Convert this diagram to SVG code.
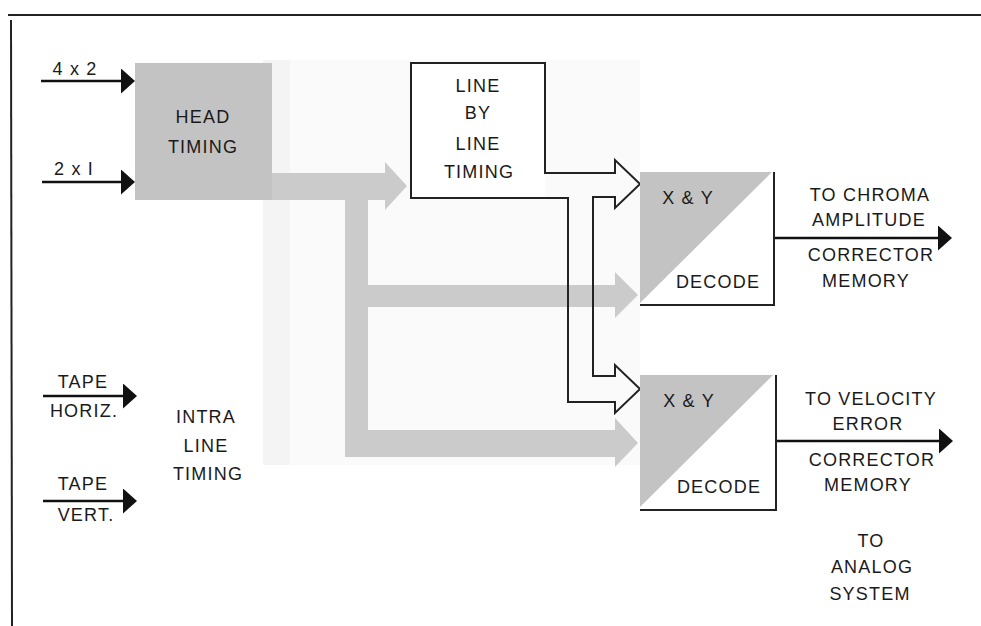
<svg xmlns="http://www.w3.org/2000/svg" width="981" height="626" viewBox="0 0 981 626">
<defs>
<style>
text{font-family:"Liberation Sans","DejaVu Sans",Arial,sans-serif;font-size:18px;letter-spacing:1.2px;fill:#1a1a1a;text-anchor:middle}
.frame{stroke:#222;stroke-width:2;fill:none}
.wire{stroke:#111;stroke-width:2.5;fill:none;marker-end:url(#ah)}
.band{fill:#cbcbcb}
.shade{fill:#c3c3c3}
.edge{stroke:#222;stroke-width:2;fill:none}
</style>
<marker id="ah" markerUnits="userSpaceOnUse" markerWidth="15" markerHeight="26" refX="10" refY="12.5" orient="auto">
<path d="M0,0 L14,12.5 L0,25 Z" fill="#111"/>
</marker>
</defs>
<rect width="981" height="626" fill="#fff"/>
<g id="frame">
<line class="frame" x1="8" y1="15" x2="981" y2="15"/>
<line class="frame" x1="11" y1="20" x2="12" y2="626"/>
</g>
<g id="intra-line-timing">
<rect x="263" y="60" width="377" height="405" fill="#fafafa"/>
<rect x="263" y="60" width="27" height="405" fill="#f4f4f4"/>
<text x="206" y="423">INTRA</text>
<text x="206" y="452">LINE</text>
<text x="208" y="480">TIMING</text>
</g>
<g id="connectors">
<path class="band" d="M272,173 H385 V162 L407,186 L385,210 V200 H368 V285 H615 V272 L638,295 L615,318 V307 H368 V430 H615 V418 L638,443 L615,467 V457 H345 V200 H272 Z"/>
<line class="wire" x1="41" y1="81" x2="131" y2="81"/>
<line class="wire" x1="42" y1="182" x2="131" y2="182"/>
<line class="wire" x1="43" y1="396" x2="133" y2="396"/>
<line class="wire" x1="43" y1="501" x2="133" y2="501"/>
<line class="wire" x1="774" y1="238" x2="948" y2="238"/>
<line class="wire" x1="776" y1="441" x2="949" y2="441"/>
<text x="75" y="75">4 x 2</text>
<text x="74" y="175">2 x I</text>
<text x="83" y="388">TAPE</text>
<text x="84" y="417">HORIZ.</text>
<text x="83" y="490">TAPE</text>
<text x="86" y="521">VERT.</text>
<text x="870" y="201">TO CHROMA</text>
<text x="869" y="226">AMPLITUDE</text>
<text x="871" y="261">CORRECTOR</text>
<text x="866" y="287">MEMORY</text>
<text x="871" y="405">TO VELOCITY</text>
<text x="868" y="430">ERROR</text>
<text x="872" y="466">CORRECTOR</text>
<text x="868" y="491">MEMORY</text>
<text x="871" y="547">TO</text>
<text x="872" y="573">ANALOG</text>
<text x="870" y="600">SYSTEM</text>
</g>
<g id="head-timing">
<rect class="shade" x="135" y="63" width="137" height="137"/>
<text x="203" y="123">HEAD</text>
<text x="203" y="153">TIMING</text>
</g>
<g id="line-by-line-timing">
<rect x="411" y="63" width="134" height="135" fill="#fff"/>
<path class="edge" d="M411,63 H545 V173 H615 V160 L640,184 L615,208 V197 H593 V376 H615 V365 L640,389 L615,413 V402 H568 V198 H411 Z"/>
<text x="478" y="92">LINE</text>
<text x="478" y="119">BY</text>
<text x="478" y="150">LINE</text>
<text x="479" y="178">TIMING</text>
</g>
<g id="decode-1">
<rect x="640" y="172" width="134" height="133" fill="#fff"/>
<polygon class="shade" points="640,172 772,172 640,303"/>
<polyline class="edge" points="774,172 774,305 640,305"/>
<text x="688" y="204">X &amp; Y</text>
<text x="718" y="288">DECODE</text>
</g>
<g id="decode-2">
<rect x="640" y="375" width="136" height="135" fill="#fff"/>
<polygon class="shade" points="640,375 773,375 640,507"/>
<polyline class="edge" points="776,375 776,510 640,510"/>
<text x="689" y="407">X &amp; Y</text>
<text x="719" y="493">DECODE</text>
</g>
</svg>
